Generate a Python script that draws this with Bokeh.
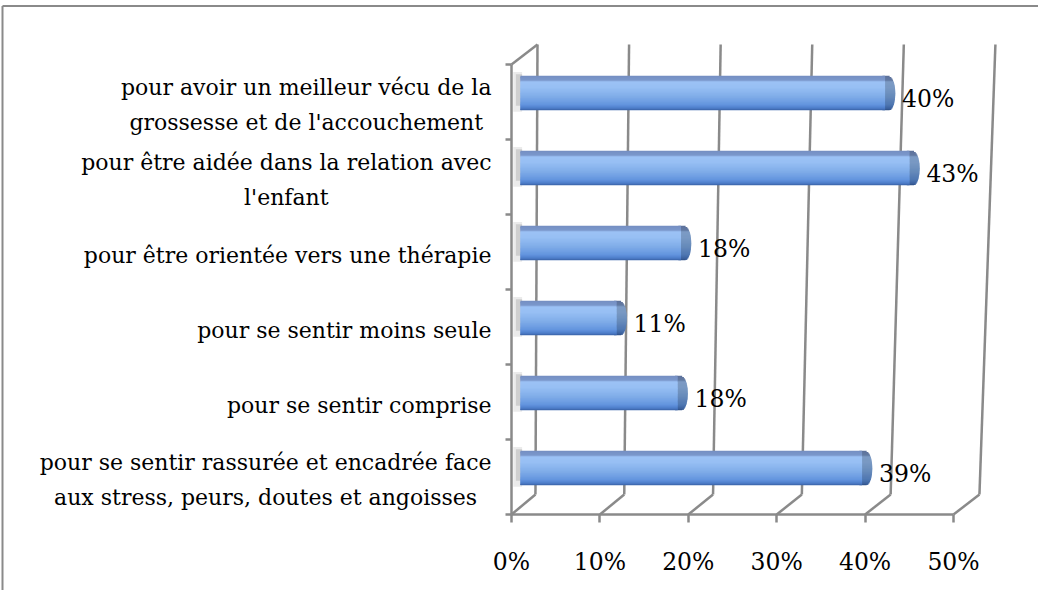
import glob
import numpy as np
from bokeh.plotting import figure
from bokeh.models import Range1d, FixedTicker
from bokeh.core.properties import value
from bokeh.embed import file_html
from bokeh.resources import INLINE

# ---------------- data ----------------
categories = [
    "pour avoir un meilleur vécu de la\ngrossesse et de l'accouchement",
    "pour être aidée dans la relation avec\nl'enfant",
    "pour être orientée vers une thérapie",
    "pour se sentir moins seule",
    "pour se sentir comprise",
    "pour se sentir rassurée et encadrée face\naux stress, peurs, doutes et angoisses",
]
values = [40, 43, 18, 11, 18, 39]
value_labels = ["40%", "43%", "18%", "11%", "18%", "39%"]
x_ticks = [0, 10, 20, 30, 40, 50]
x_tick_labels = ["0%", "10%", "20%", "30%", "40%", "50%"]

# ---------------- geometry / style ----------------
FONT = "DejaVu Serif"
CAT_FS = 22
NUM_FS = 23.5
GRID = "#8a8a8a"
W, H = 1038, 590
PX, PY = 8.84, 75.0          # pixels per % and per category
OX, OY = 511, 514            # canvas position of the front corner (0%, floor)

n = len(categories)
ypos = np.array([n - 0.5 - i for i in range(n)])
vals = np.array(values, dtype=float)

DEPTH_DY = 20 / PY
Y_TOP = n + DEPTH_DY
BB_OFF, BB_SC = 2.71, 1.0045   # back wall, bottom edge
BT_OFF, BT_SC = 2.94, 1.036    # back wall, top edge

xr = Range1d(-OX / PX, (W - OX) / PX)
yr = Range1d(-(H - OY) / PY, OY / PY)
p = figure(width=W, height=H, x_range=xr, y_range=yr,
           min_border=0, min_border_left=0, min_border_right=0,
           min_border_top=0, min_border_bottom=0,
           output_backend="svg", toolbar_location=None)
p.xgrid.visible = False
p.ygrid.visible = False
p.outline_line_color = None
p.background_fill_color = "white"
p.border_fill_color = "white"

# chart border (top and left visible; right/bottom lie outside the window)
bx = xr.start + 2.0 / PX
by = yr.end - 5.5 / PY
p.segment(x0=[bx, bx], y0=[yr.start - 1, by], x1=[bx, xr.end + 1], y1=[by, by],
          line_color=GRID, line_width=2)

# back wall gridlines (slanted by perspective)
xt = np.array(x_ticks, dtype=float)
p.segment(x0=BB_OFF + xt * BB_SC, y0=np.full(len(xt), DEPTH_DY),
          x1=BT_OFF + xt * BT_SC, y1=np.full(len(xt), Y_TOP),
          line_color=GRID, line_width=2.5)
# floor diagonals
p.segment(x0=xt, y0=np.zeros(len(xt)),
          x1=BB_OFF + xt * BB_SC, y1=np.full(len(xt), DEPTH_DY),
          line_color=GRID, line_width=2.5)
# front floor line
p.segment(x0=[xt.min()], y0=[0], x1=[xt.max()], y1=[0], line_color=GRID, line_width=2.5)
# left wall front edge + top diagonal
p.segment(x0=[0, 0], y0=[0, n], x1=[0, BT_OFF], y1=[n, Y_TOP], line_color=GRID, line_width=2.5)

# bars
bar_h = 0.46
bar_top = ypos + 0.12 + bar_h / 2
bar_left = 1.0
scale = 1 + 0.036 * (ypos / Y_TOP)
face_end = 0.5 + 0.09 * ypos + vals * scale

# soft shadow on left wall
p.quad(left=np.full(n, 0.2), right=np.full(n, bar_left + 0.2),
       top=bar_top + 0.05, bottom=bar_top - bar_h - 0.02,
       fill_color="#e2e2e2", fill_alpha=0.7, line_color=None)
p.quad(left=np.full(n, 0.5), right=np.full(n, bar_left + 0.2),
       top=bar_top + 0.02, bottom=bar_top - bar_h + 0.06,
       fill_color="#bcbcbc", fill_alpha=0.6, line_color=None)

stops_t = [0.0, 0.13, 0.17, 0.35, 0.6, 0.85, 0.93, 1.0]
stops_c = [(0x74, 0x8e, 0xc2), (0x7c, 0x98, 0xcc), (0x9c, 0xc2, 0xf6),
           (0x97, 0xbf, 0xf4), (0x80, 0xad, 0xe9), (0x62, 0x94, 0xde),
           (0x4f, 0x7f, 0xcc), (0x3a, 0x64, 0xa8)]
K = 28

def col_at(t, dark=1.0):
    rgb = [np.interp(t, stops_t, [c[i] for c in stops_c]) * dark for i in range(3)]
    return "#%02x%02x%02x" % tuple(int(max(0, min(255, v))) for v in rgb)

cl, cr, ct, cb, cc = [], [], [], [], []
fl, fr, ft, fb, fc = [], [], [], [], []
CAP = 1.15
for i in range(n):
    for k in range(K):
        t0, t1 = k / K, (k + 1) / K
        tm = (t0 + t1) / 2
        top = bar_top[i] - t0 * bar_h
        bot = bar_top[i] - t1 * bar_h - (0.012 if k < K - 1 else 0)
        ext = CAP * (max(0.0, 1 - (2 * tm - 1) ** 2)) ** 0.3
        cl.append(face_end[i] - 0.3); cr.append(face_end[i] + ext)
        ct.append(top); cb.append(bot); cc.append(col_at(tm, 0.8))
        fl.append(bar_left); fr.append(face_end[i])
        ft.append(top); fb.append(bot); fc.append(col_at(tm))

p.quad(left=cl, right=cr, top=ct, bottom=cb, fill_color=cc, line_color=None)
p.quad(left=fl, right=fr, top=ft, bottom=fb, fill_color=fc, line_color=None)

# value labels
p.text(x=face_end + 1.92, y=ypos + 0.04, text=value_labels,
       text_font=value(FONT), text_font_size=f"{NUM_FS}px",
       text_align="left", text_baseline="middle", text_color="black")

# category labels: lines centred within each block, block right-aligned to the axis
def measure(s, size):
    try:
        from PIL import ImageFont
        paths = glob.glob("/usr/share/fonts/**/DejaVuSerif.ttf", recursive=True)
        f = ImageFont.truetype(paths[0], size)
        return f.getlength(s)
    except Exception:
        return 0.52 * size * len(s)

GAP = 20
cat_x = []
for c in categories:
    bw = max(measure(line, CAT_FS) for line in c.split("\n"))
    cat_x.append(-(GAP + bw / 2) / PX)
p.text(x=cat_x, y=ypos - 0.04, text=categories,
       text_font=value(FONT), text_font_size=f"{CAT_FS}px",
       text_align="center", text_baseline="middle", text_color="black",
       text_line_height=1.4)

# x axis (at the front floor edge)
xa = p.xaxis[0]
xa.fixed_location = 0
xa.ticker = FixedTicker(ticks=x_ticks, minor_ticks=[])
xa.major_label_overrides = {t: l for t, l in zip(x_ticks, x_tick_labels)}
xa.axis_line_color = None
xa.major_tick_line_color = GRID
xa.major_tick_line_width = 2.5
xa.major_tick_out = 8
xa.major_tick_in = 0
xa.major_label_standoff = 25
xa.major_label_text_font = FONT
xa.major_label_text_font_size = f"{NUM_FS}px"
xa.major_label_text_color = "black"

# y axis: category boundary ticks on the left wall edge
ya = p.yaxis[0]
ya.fixed_location = 0
ya.ticker = FixedTicker(ticks=[], minor_ticks=list(range(n + 1)))
ya.axis_line_color = None
ya.major_tick_line_color = None
ya.major_label_text_color = None
ya.minor_tick_line_color = GRID
ya.minor_tick_line_width = 2.5
ya.minor_tick_out = 6
ya.minor_tick_in = 0

open("out.html", "w").write(file_html(p, INLINE))
